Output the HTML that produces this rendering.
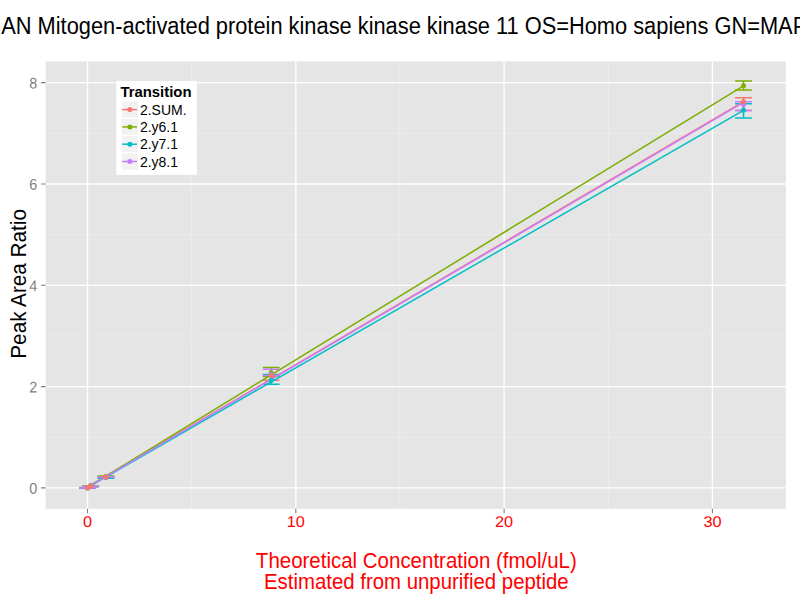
<!DOCTYPE html>
<html>
<head>
<meta charset="utf-8">
<style>
html,body{margin:0;padding:0;background:#fff;}
body{width:800px;height:600px;overflow:hidden;position:relative;font-family:"Liberation Sans",sans-serif;}
svg{position:absolute;left:0;top:0;}
text{font-family:"Liberation Sans",sans-serif;}
</style>
</head>
<body>
<svg width="800" height="600" viewBox="0 0 800 600">
<rect x="0" y="0" width="800" height="600" fill="#ffffff"/>
<!-- title -->
<text id="title" transform="translate(1.2,34) scale(0.937,1) rotate(0.02)" x="0" y="0" font-size="23.3" fill="#000" xml:space="preserve">AN Mitogen-activated protein kinase kinase kinase 11 OS=Homo sapiens GN=MAP3K11 PE=1 SV=1</text>
<!-- panel -->
<rect x="45.6" y="61.4" width="740.25" height="447.45" fill="#E5E5E5"/>
<!-- minor grid -->
<g stroke="#F2F2F2" stroke-width="0.6" fill="none">
<path d="M45.6 437.25H785.85M45.6 335.95H785.85M45.6 234.65H785.85M45.6 133.3H785.85"/>
<path d="M191.65 61.4V508.85M399.95 61.4V508.85M608.3 61.4V508.85"/>
</g>
<!-- major grid -->
<g stroke="#FFFFFF" stroke-width="1.3" fill="none">
<path d="M45.6 487.9H785.85M45.6 386.6H785.85M45.6 285.3H785.85M45.6 184H785.85M45.6 82.6H785.85"/>
<path d="M87.5 61.4V508.85M295.8 61.4V508.85M504.1 61.4V508.85M712.4 61.4V508.85"/>
</g>
<!-- error bars -->
<g fill="none" stroke-width="1.5">
<!-- SUM -->
<g stroke="#F8766D">
<path d="M79 488.1H96M82.1 486.5H99.1M97.4 477.2H114.4"/>
<path d="M262.8 375.4H279.6M262.8 380.2H279.6M271.2 375.4V380.2"/>
<path d="M735.1 97.7H751.9M735.1 110.4H751.9M743.5 97.7V110.4"/>
</g>
<!-- y6 -->
<g stroke="#7CAE00">
<path d="M79 487.6H96M82.1 486H99.1M97.4 476H114.4"/>
<path d="M262.8 367.5H279.6M262.8 376.5H279.6M271.2 367.5V376.5"/>
<path d="M735.1 81H751.9M735.1 90H751.9M743.5 81V90"/>
</g>
<!-- y7 -->
<g stroke="#00BFC4">
<path d="M79 488.1H96M82.1 486.7H99.1M97.4 478.3H114.4"/>
<path d="M262.8 374.5H279.6M262.8 384.3H279.6M271.2 374.5V384.3"/>
<path d="M735.1 103.75H751.9M735.1 118.1H751.9M743.5 103.75V118.1"/>
</g>
<!-- y8 -->
<g stroke="#C77CFF">
<path d="M79 488H96M82.1 486.4H99.1M97.4 477.1H114.4"/>
<path d="M262.8 369.2H279.6M262.8 375.5H279.6M271.2 369.2V375.5"/>
<path d="M735.1 101.7H751.9M735.1 110.4H751.9M743.5 101.7V110.4"/>
</g>
</g>
<!-- lines -->
<g fill="none" stroke-width="1.5" stroke-linecap="butt">
<path stroke="#F8766D" d="M87.5 486.8L743.5 101.7"/>
<path stroke="#7CAE00" d="M87.5 487.4L743.5 85.8"/>
<path stroke="#00BFC4" d="M87.5 487.65L743.5 110.3"/>
<path stroke="#C77CFF" d="M87.5 487.3L743.5 102.4"/>
</g>
<!-- points -->
<g stroke="none">
<g fill="#7CAE00"><circle cx="87.5" cy="487.4" r="2.5"/><circle cx="90.6" cy="485.6" r="2.5"/><circle cx="105.85" cy="476.5" r="2.5"/><circle cx="271.2" cy="372.8" r="2.5"/><circle cx="743.5" cy="85.8" r="2.5"/></g>
<g fill="#00BFC4"><circle cx="87.5" cy="487.9" r="2.5"/><circle cx="90.6" cy="486.3" r="2.5"/><circle cx="105.85" cy="477.5" r="2.5"/><circle cx="271.2" cy="380.2" r="2.5"/><circle cx="743.5" cy="110.3" r="2.5"/></g>
<g fill="#C77CFF"><circle cx="87.5" cy="487.8" r="2.5"/><circle cx="90.6" cy="486" r="2.5"/><circle cx="105.85" cy="477" r="2.5"/><circle cx="271.2" cy="374.4" r="2.5"/><circle cx="743.5" cy="104.6" r="2.5"/></g>
<g fill="#F8766D"><circle cx="87.5" cy="488.1" r="2.5"/><circle cx="90.6" cy="486.3" r="2.5"/><circle cx="105.85" cy="477.2" r="2.5"/><circle cx="271.2" cy="375.7" r="2.5"/><circle cx="743.5" cy="101.8" r="2.5"/></g>
</g>
<!-- axis ticks -->
<g stroke="#7F7F7F" stroke-width="1.1" fill="none">
<path d="M41 487.9H45.6M41 386.6H45.6M41 285.3H45.6M41 184H45.6M41 82.6H45.6"/>
<path d="M87.5 508.85V513.2M295.8 508.85V513.2M504.1 508.85V513.2M712.4 508.85V513.2"/>
</g>
<!-- y tick labels -->
<g font-size="15.6" fill="#7F7F7F" text-anchor="end">
<text transform="translate(37.3,493.80) scale(0.92,1) rotate(0.2)" x="0" y="0">0</text>
<text transform="translate(37.3,392.50) scale(0.92,1) rotate(0.2)" x="0" y="0">2</text>
<text transform="translate(37.3,291.20) scale(0.92,1) rotate(0.2)" x="0" y="0">4</text>
<text transform="translate(37.3,189.90) scale(0.92,1) rotate(0.2)" x="0" y="0">6</text>
<text transform="translate(37.3,88.50) scale(0.92,1) rotate(0.2)" x="0" y="0">8</text>
</g>
<!-- x tick labels -->
<g font-size="15.6" fill="#FF0000" text-anchor="middle">
<text transform="translate(87.50,527) scale(1.04,1) rotate(0.2)" x="0" y="0">0</text>
<text transform="translate(295.80,527) scale(1.04,1) rotate(0.2)" x="0" y="0">10</text>
<text transform="translate(504.10,527) scale(1.04,1) rotate(0.2)" x="0" y="0">20</text>
<text transform="translate(712.40,527) scale(1.04,1) rotate(0.2)" x="0" y="0">30</text>
</g>
<!-- axis titles -->
<g font-size="21.8" fill="#FF0000" text-anchor="middle">
<text transform="translate(416.3,568) scale(0.9395,1) rotate(0.02)" x="0" y="0">Theoretical Concentration (fmol/uL)</text>
<text transform="translate(416.3,588.8) scale(0.9354,1) rotate(0.02)" x="0" y="0">Estimated from unpurified peptide</text>
</g>
<text font-size="21.3" fill="#000" text-anchor="middle" transform="translate(25.9,283.9) rotate(-90) scale(0.972,1)">Peak Area Ratio</text>
<!-- legend -->
<rect x="116.2" y="81" width="80.7" height="93.8" fill="#FFFFFF"/>
<text x="120.4" y="96.7" font-size="14.9" font-weight="bold" fill="#000">Transition</text>
<g fill="#F2F2F2" stroke="#FFFFFF" stroke-width="1.1">
<rect x="121.2" y="101" width="17.3" height="17.3"/>
<rect x="121.2" y="118.3" width="17.3" height="17.3"/>
<rect x="121.2" y="135.6" width="17.3" height="17.3"/>
<rect x="121.2" y="152.9" width="17.3" height="17.3"/>
</g>
<g stroke-width="1.5" fill="none">
<path stroke="#F8766D" d="M122.2 109.6H136.9"/>
<path stroke="#7CAE00" d="M122.2 126.9H136.9"/>
<path stroke="#00BFC4" d="M122.2 144.2H136.9"/>
<path stroke="#C77CFF" d="M122.2 161.5H136.9"/>
</g>
<circle cx="129.85" cy="109.6" r="2.5" fill="#F8766D"/>
<circle cx="129.85" cy="126.9" r="2.5" fill="#7CAE00"/>
<circle cx="129.85" cy="144.2" r="2.5" fill="#00BFC4"/>
<circle cx="129.85" cy="161.5" r="2.5" fill="#C77CFF"/>
<g font-size="14" fill="#000">
<text x="139.9" y="114.7">2.SUM.</text>
<text x="139.9" y="132">2.y6.1</text>
<text x="139.9" y="149.3">2.y7.1</text>
<text x="139.9" y="166.6">2.y8.1</text>
</g>
</svg>
</body>
</html>
